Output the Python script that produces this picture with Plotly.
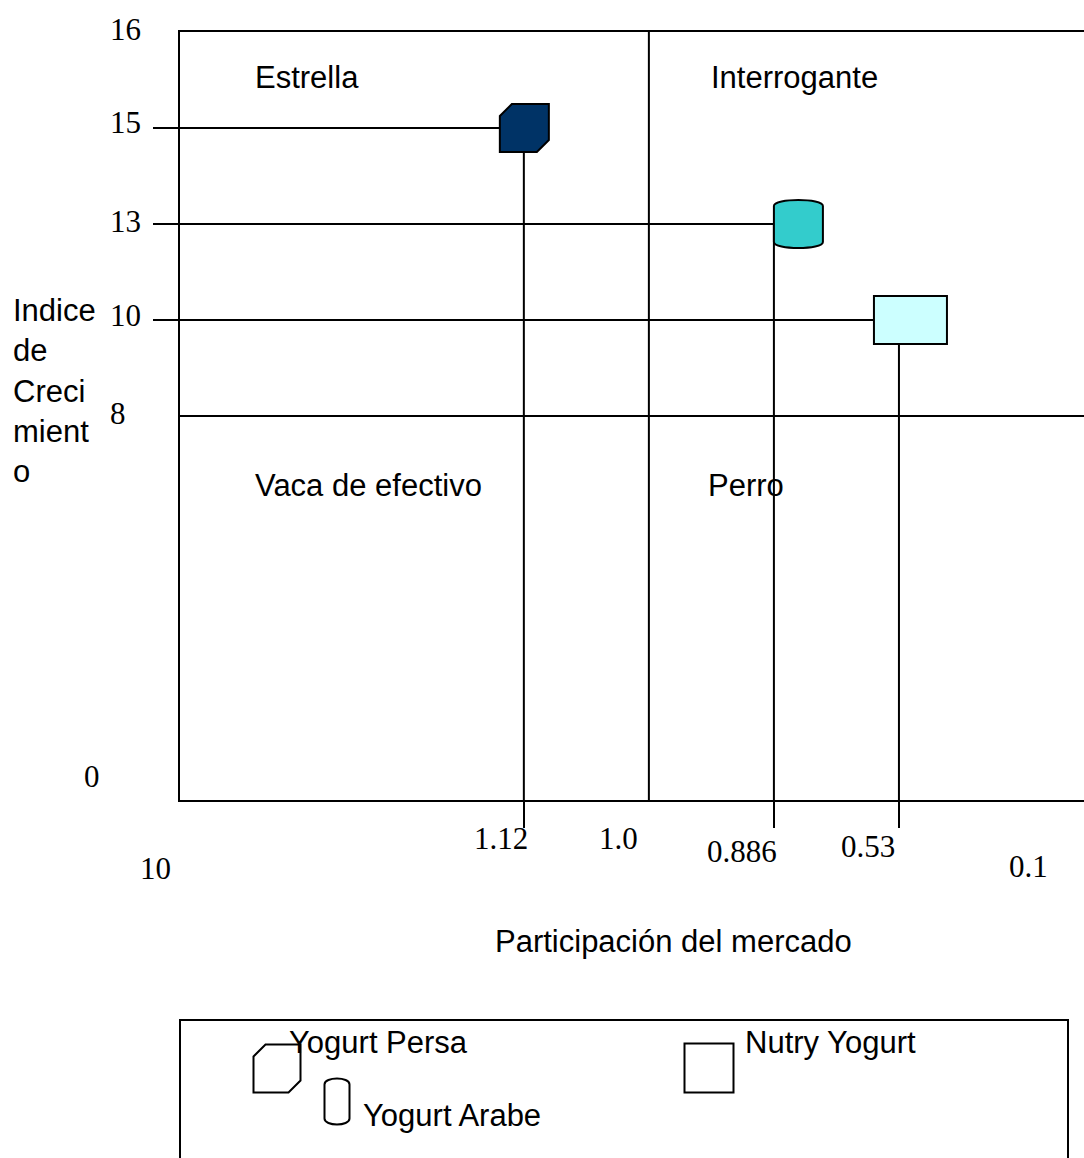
import plotly.graph_objects as go

# ---------------- data ----------------
PRODUCTS = ["Yogurt Persa", "Yogurt Arabe", "Nutry Yogurt"]
SHARE = ["1.12", "0.886", "0.53"]          # participación del mercado (relativa)
GROWTH = [15, 13, 10]                      # índice de crecimiento
X_TICKS = ["1.12", "1.0", "0.886", "0.53", "0.1"]   # ordered share scale
X_ORIGIN = "10"
Y_TICKS = ["8", "10", "13", "15", "16"]             # ordered growth scale
Y_ORIGIN = "0"
SHARE_SPLIT = "1.0"
GROWTH_SPLIT = "8"
QUADRANTS = ["Estrella", "Interrogante", "Vaca de efectivo", "Perro"]
X_TITLE = "Participación del mercado"
Y_TITLE = "Indice<br>de<br>Creci<br>mient<br>o"

# ---------------- style ----------------
COLORS = ["#003366", "#33CCCC", "#CCFFFF"]
SANS = "Liberation Sans, Arial, sans-serif"
SERIF = "Liberation Serif, Times New Roman, serif"
FS = 31
W, H = 1084, 1158
ML, MR, MT, MB = 180, 0, 32, 358
PW, PH = W - ML - MR, H - MT - MB
XRANGE = [-2.75, 4.48]
YRANGE = [-4, 4]

def px_x(p):   # pixel -> paper x
    return (p - ML) / PW

def px_y(p):   # pixel -> paper y
    return (MT + PH - p) / PH

# marker outlines in pixel offsets (y up) relative to the data anchor
MARK_PATHS = [
    "M -24,12 L -12,24 L 25,24 L 25,-12 L 13,-24 L -24,-24 Z",             # octagon-like
    "M 0,18 C 0,26 49,26 49,18 L 49,-18 C 49,-26 0,-26 0,-18 Z",           # cylinder
    "M -25,-24 L 48,-24 L 48,24 L -25,24 Z",                               # rectangle
]
LEGEND_PATHS = [
    "M -23,12 L -11,24 L 24,24 L 24,-12 L 12,-24 L -23,-24 Z",
    "M -12,17 C -12,25 13,25 13,17 L 13,-17 C 13,-25 -12,-25 -12,-17 Z",
    "M -24,-24 L 25,-24 L 25,25 L -24,25 Z",
]
LEGEND_ICON_PX = [(276.5, 1068.5), (336.5, 1101.5), (708.5, 1068.5)]
LEGEND_TEXT_PX = [(287, 1042), (361, 1115), (743, 1042)]
XLAB_SHIFT = {"1.12": (6, -38), "1.0": (-9, -38), "0.886": (5, -51),
              "0.53": (-2, -46), "0.1": (26, -66)}
YLAB_SHIFT = {"16": 3, "15": 6, "13": 3, "10": 5, "8": 3}
QUAD_PX = [(253, 77), (709, 77), (253, 485), (706, 485)]

xi_of = {c: i for i, c in enumerate(X_TICKS)}
yi_of = {c: i for i, c in enumerate(Y_TICKS)}

fig = go.Figure()
fig.add_trace(go.Scatter(
    x=SHARE, y=[str(g) for g in GROWTH], mode="markers", text=PRODUCTS,
    marker=dict(size=40, opacity=0),
    hovertemplate="%{text}<br>Participación: %{x}<br>Crecimiento: %{y}<extra></extra>",
    showlegend=False))

shapes = []
line = dict(color="black", width=2)
# quadrant dividers
sx = xi_of[SHARE_SPLIT]
sy = yi_of[GROWTH_SPLIT]
shapes.append(dict(type="line", xref="x", yref="paper", x0=sx, x1=sx, y0=0, y1=1, line=line))
shapes.append(dict(type="line", xref="paper", yref="y", x0=0, x1=1, y0=sy, y1=sy, line=line))
# drop lines
for s, g in zip(SHARE, GROWTH):
    xi, yi = xi_of[s], yi_of[str(g)]
    shapes.append(dict(type="line", xref="x", yref="y", x0=XRANGE[0], x1=xi, y0=yi, y1=yi, line=line))
    shapes.append(dict(type="line", xref="x", yref="y", x0=xi, x1=xi, y0=YRANGE[0], y1=yi, line=line))
# markers
for s, g, path, col in zip(SHARE, GROWTH, MARK_PATHS, COLORS):
    xi, yi = xi_of[s], yi_of[str(g)]
    shapes.append(dict(type="path", xref="x", yref="y", xsizemode="pixel", ysizemode="pixel",
                       xanchor=xi, yanchor=yi, path=path, fillcolor=col,
                       line=dict(color="black", width=2)))
# legend frame + icons
shapes.append(dict(type="rect", xref="paper", yref="paper", x0=0, x1=px_x(1068),
                   y0=px_y(1020), y1=px_y(1175), line=dict(color="black", width=2),
                   fillcolor="rgba(0,0,0,0)"))
for path, (ix, iy) in zip(LEGEND_PATHS, LEGEND_ICON_PX):
    shapes.append(dict(type="path", xref="paper", yref="paper", xsizemode="pixel",
                       ysizemode="pixel", xanchor=px_x(ix), yanchor=px_y(iy), path=path,
                       fillcolor="white", line=dict(color="black", width=2)))

ann = []
sans = dict(family=SANS, size=FS, color="black")
serif = dict(family=SERIF, size=FS, color="black")
# y tick labels
for lab in Y_TICKS:
    ann.append(dict(text=lab, xref="paper", yref="y", x=0, y=yi_of[lab], xanchor="left",
                    yanchor="middle", xshift=-72, yshift=YLAB_SHIFT[lab],
                    showarrow=False, font=serif))
ann.append(dict(text=Y_ORIGIN, xref="paper", yref="paper", x=0, y=0, xanchor="left",
                yanchor="middle", xshift=-98, yshift=24, showarrow=False, font=serif))
# x tick labels
for lab in X_TICKS:
    dx, dy = XLAB_SHIFT[lab]
    ann.append(dict(text=lab, xref="x", yref="paper", x=xi_of[lab], y=0,
                    xanchor="right", yanchor="middle", xshift=dx, yshift=dy,
                    showarrow=False, font=serif))
ann.append(dict(text=X_ORIGIN, xref="paper", yref="paper", x=0, y=0, xanchor="right",
                yanchor="middle", xshift=-7, yshift=-68, showarrow=False, font=serif))
# quadrant names
for q, (qx, qy) in zip(QUADRANTS, QUAD_PX):
    ann.append(dict(text=q, xref="paper", yref="paper", x=px_x(qx), y=px_y(qy),
                    xanchor="left", yanchor="middle", showarrow=False, font=sans))
# axis titles
ann.append(dict(text=Y_TITLE, xref="paper", yref="paper", x=px_x(11), y=px_y(391),
                xanchor="left", yanchor="middle", align="left", showarrow=False,
                font=sans))
ann.append(dict(text=X_TITLE, xref="paper", yref="paper", x=px_x(673), y=px_y(941),
                xanchor="center", yanchor="middle", showarrow=False, font=sans))
# legend texts
for name, (tx, ty) in zip(PRODUCTS, LEGEND_TEXT_PX):
    ann.append(dict(text=name, xref="paper", yref="paper", x=px_x(tx), y=px_y(ty),
                    xanchor="left", yanchor="middle", showarrow=False, font=sans))

fig.update_layout(
    width=W, height=H, margin=dict(l=ML, r=MR, t=MT, b=MB),
    paper_bgcolor="white", plot_bgcolor="white",
    font=dict(family=SANS, color="black"),
    shapes=shapes, annotations=ann, showlegend=False,
    xaxis=dict(type="category", categoryorder="array", categoryarray=X_TICKS,
               range=XRANGE, showgrid=False, zeroline=False, showline=True,
               linecolor="black", linewidth=2, mirror=True,
               tickmode="array", tickvals=SHARE, ticks="outside", ticklen=26,
               tickwidth=2, tickcolor="black", showticklabels=False, fixedrange=True),
    yaxis=dict(type="category", categoryorder="array", categoryarray=Y_TICKS,
               range=YRANGE, showgrid=False, zeroline=False, showline=True,
               linecolor="black", linewidth=2, mirror=False,
               tickmode="array", tickvals=[str(g) for g in GROWTH], ticks="outside",
               ticklen=25, tickwidth=2, tickcolor="black", showticklabels=False,
               fixedrange=True),
)

fig.write_html("out.html", post_script="document.body.style.margin='0';",
               config={"displayModeBar": False})
